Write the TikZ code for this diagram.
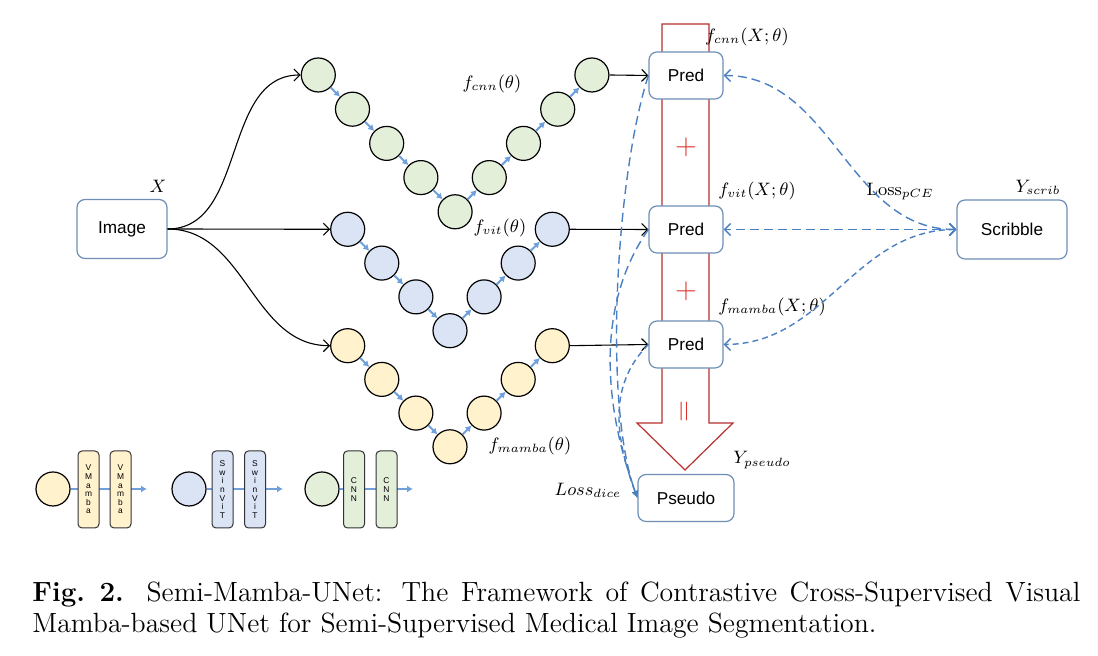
\documentclass[tikz,border=0pt]{standalone}
\usepackage{fontspec}
\newfontfamily\helv{Liberation Sans}
\usetikzlibrary{arrows.meta,positioning}
\definecolor{boxblue}{HTML}{6E8FB5}
\definecolor{dashblue}{HTML}{4A7FC1}
\definecolor{chainblue}{HTML}{6FA0DC}
\definecolor{redline}{HTML}{B8312F}
\definecolor{plusred}{HTML}{E0312A}
\definecolor{cnnfill}{HTML}{E3EFD9}
\definecolor{vitfill}{HTML}{DBE4F4}
\definecolor{mambafill}{HTML}{FFF2CC}

\begin{document}
\begin{tikzpicture}[x=0.5pt,y=0.5pt,
  box/.style={draw=boxblue, line width=0.6pt, rounded corners=4pt, fill=white, inner sep=0pt, font=\helv\fontsize{8.6}{10}\selectfont},
  unit/.style={circle, draw=black, line width=0.6pt, minimum size=17pt, inner sep=0pt},
  stage/.style={draw=black!80, line width=0.5pt, rounded corners=2pt, minimum width=10.5pt, minimum height=38.5pt, inner sep=0pt, align=center, font=\helv\fontsize{4.2}{4.3}\selectfont},
  feed/.style={-{Straight Barb[length=3pt,width=6pt]}, line width=0.55pt},
  hop/.style={-{Latex[length=3pt,width=3.5pt]}, chainblue, line width=1pt},
  loss/.style={dashblue, line width=0.7pt, dash pattern=on 4.5pt off 2.5pt},
  lbl/.style={font=\fontsize{9}{11}\selectfont, inner sep=0pt},
  sign/.style={text=plusred, font=\fontsize{14}{16}\selectfont, inner sep=0pt},
]
\useasboundingbox (0,0) rectangle (1098,656);

% fusion arrow
\draw[redline, line width=0.6pt, fill=white] (662,632) -- (709,632) -- (709,233) -- (733,233)
  -- (685,186) -- (637,233) -- (662,233) -- cycle;
\node[sign] at (686,509) {$+$};
\node[sign] at (686,365) {$+$};
\node[sign, rotate=90] at (686,244) {$=$};

% input
\node[box, minimum width=45pt, minimum height=29.5pt] (img) at (122,427) {Image};
\node[lbl] at (158,470) {$X$};

% three U-shaped branches
\foreach \i in {0,...,8} {
  \pgfmathsetmacro\d{4-abs(\i-4)}
  \node[unit, fill=cnnfill] (c\i) at ({318.3+34.2*\i},{581-34.2*\d}) {};
}
\foreach \i [remember=\i as \j (initially 0)] in {1,...,8}
  \draw[hop] (c\j) -- (c\i);
\foreach \i in {0,...,6} {
  \pgfmathsetmacro\d{3-abs(\i-3)}
  \node[unit, fill=vitfill] (v\i) at ({347.7+34.1*\i},{426.7-33.8*\d}) {};
  \node[unit, fill=mambafill] (m\i) at ({347.7+34.1*\i},{310.3-33.7*\d}) {};
}
\foreach \i [remember=\i as \j (initially 0)] in {1,...,6} {
  \draw[hop] (v\j) -- (v\i);
  \draw[hop] (m\j) -- (m\i);
}
\node[lbl] at (492,572) {$f_{cnn}(\theta)$};
\node[lbl] at (500,428) {$f_{vit}(\theta)$};
\node[lbl] at (530,210) {$f_{mamba}(\theta)$};

% predictions
\node[box, minimum width=37pt, minimum height=23.5pt] (pcnn) at (686,580.5) {Pred};
\node[box, minimum width=37pt, minimum height=23.5pt] (pvit) at (686,426.5) {Pred};
\node[box, minimum width=37pt, minimum height=23.5pt] (pmamba) at (686,311.5) {Pred};
\node[box, minimum width=48pt, minimum height=23.5pt] (pseudo) at (686,158) {Pseudo};
\node[box, minimum width=55pt, minimum height=29.5pt] (scrib) at (1012,426.5) {Scribble};
\node[lbl] at (747,619) {$f_{cnn}(X;\theta)$};
\node[lbl] at (757,465) {$f_{vit}(X;\theta)$};
\node[lbl] at (772,349) {$f_{mamba}(X;\theta)$};
\node[lbl] at (762,196) {$Y_{pseudo}$};
\node[lbl] at (1038,469) {$Y_{scrib}$};
\node[lbl] at (900,464) {$\mathrm{Loss}_{pCE}$};
\node[lbl] at (588,166) {$Loss_{dice}$};

\draw[feed] (img.east) to[out=0,in=180] (c0.west);
\draw[feed] (img.east) -- (v0.west);
\draw[feed] (img.east) to[out=0,in=180] (m0.west);
\draw[feed] (c8.east) -- (pcnn.west);
\draw[feed] (v6.east) -- (pvit.west);
\draw[feed] (m6.east) -- (pmamba.west);

% losses
\draw[loss, {Straight Barb[length=3pt,width=6pt]}-{Straight Barb[length=3pt,width=6pt]}] (scrib.west) to[out=180,in=0] (pcnn.east);
\draw[loss, {Straight Barb[length=3pt,width=6pt]}-{Straight Barb[length=3pt,width=6pt]}] (scrib.west) -- (pvit.east);
\draw[loss, dash pattern=on 3pt off 2pt, {Straight Barb[length=3pt,width=6pt]}-{Straight Barb[length=3pt,width=6pt]}] (scrib.west) to[out=180,in=0] (pmamba.east);
\draw[loss, -{Latex[length=3.5pt,width=3.5pt]}] (pcnn.west) to[out=252,in=110,looseness=0.62] (pseudo.west);
\draw[loss, -{Latex[length=3.5pt,width=3.5pt]}] (pvit.west) to[out=235,in=110,looseness=0.9] (pseudo.west);
\draw[loss, dash pattern=on 3pt off 2pt, -{Latex[length=3.5pt,width=3.5pt]}] (pmamba.west) to[out=225,in=110] (pseudo.west);

% legend
\node[unit, fill=mambafill] (lm) at (53,167) {};
\coordinate (tm) at (147,167);
\draw[hop] (lm.east) -- (tm);
\node[stage, fill=mambafill] (lm1) at (88.5,166.5) {V\\M\\a\\m\\b\\a};
\node[stage, fill=mambafill] (lm2) at (120.5,166.5) {V\\M\\a\\m\\b\\a};
\node[unit, fill=vitfill] (lv) at (189,167) {};
\coordinate (tv) at (283,167);
\draw[hop] (lv.east) -- (tv);
\node[stage, fill=vitfill] (lv1) at (222.5,166.5) {S\\w\\i\\n\\V\\i\\T};
\node[stage, fill=vitfill] (lv2) at (255,166.5) {S\\w\\i\\n\\V\\i\\T};
\node[unit, fill=cnnfill] (lc) at (322,167) {};
\coordinate (tc) at (413,167);
\draw[hop] (lc.east) -- (tc);
\node[stage, fill=cnnfill] (lc1) at (354,166.5) {C\\N\\N};
\node[stage, fill=cnnfill] (lc2) at (386.5,166.5) {C\\N\\N};

% caption
\node[anchor=north west, text width=524pt, align=justify, inner sep=0pt,
  font=\fontsize{13.9}{15.5}\selectfont] (cap) at (32,74)
  {\textbf{Fig.~2.} Semi-Mamba-UNet: The Framework of Contrastive Cross-Supervised Visual\linebreak
   Mamba-based UNet for Semi-Supervised Medical Image Segmentation.};
\end{tikzpicture}
\end{document}
